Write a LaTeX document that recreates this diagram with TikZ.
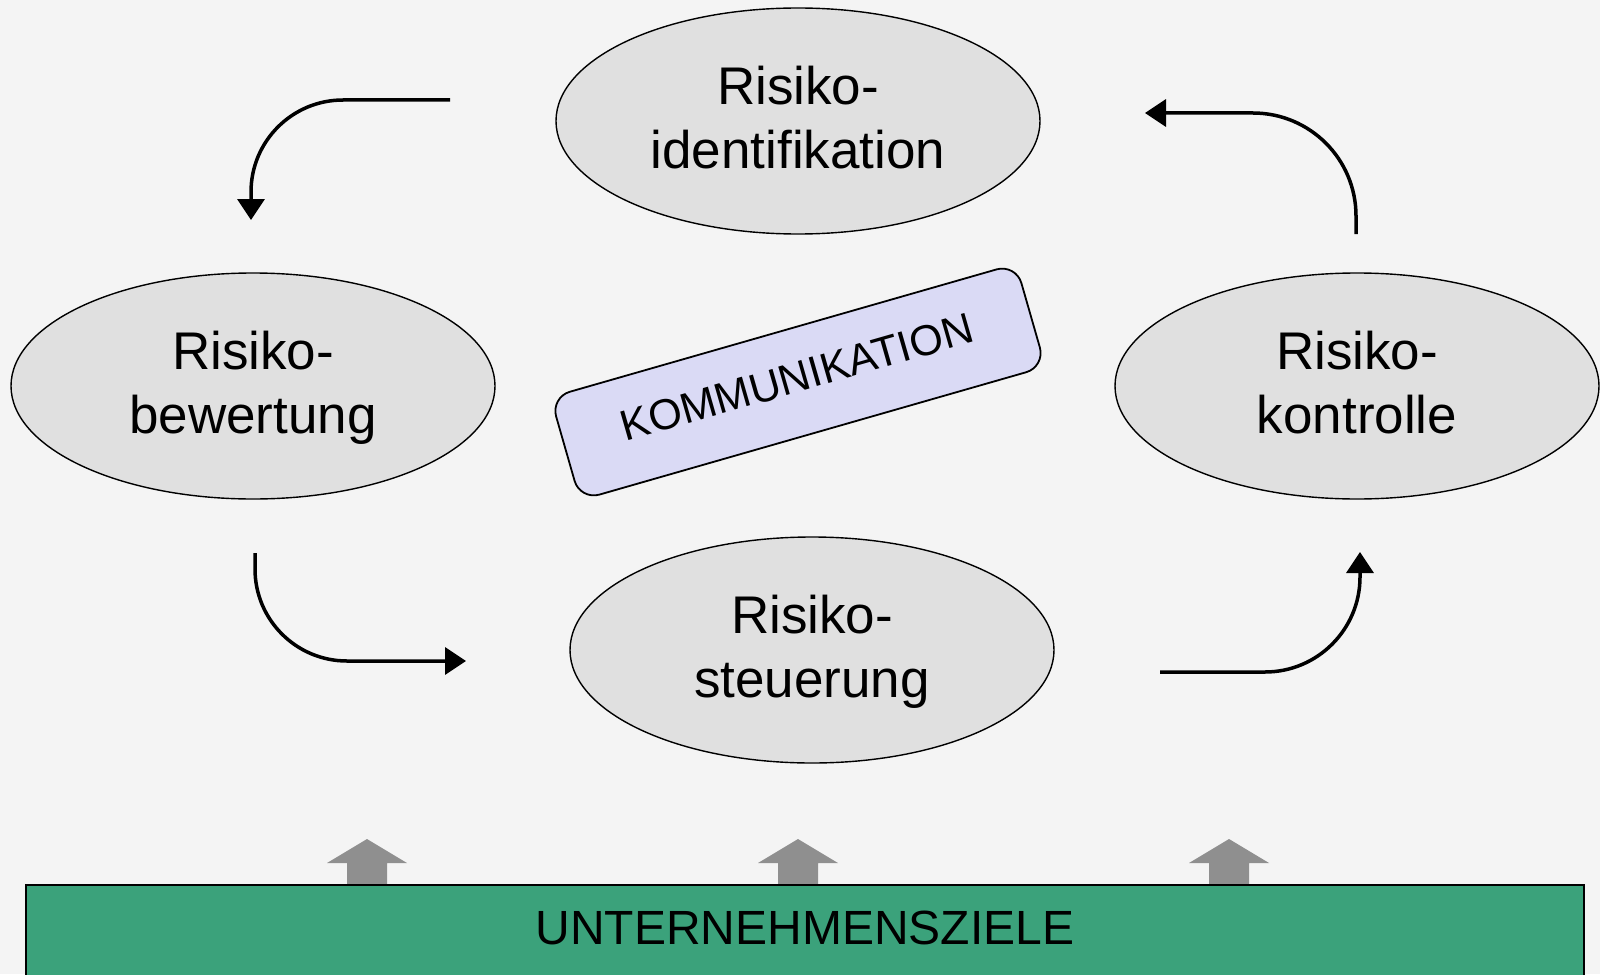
\documentclass[tikz,border=0pt]{standalone}
\usepackage{fontspec}
\setmainfont{Liberation Sans}
\usetikzlibrary{shapes.geometric,arrows.meta}
\definecolor{bgc}{RGB}{244,244,244}
\definecolor{ellfill}{RGB}{224,224,224}
\definecolor{lavfill}{RGB}{218,218,245}
\definecolor{goalgreen}{RGB}{59,162,123}
\definecolor{uparrow}{RGB}{143,143,143}
\newcommand\firstlinestrut{\rule{0pt}{24.8pt}}
\tikzset{
  phase/.style={ellipse, draw=black, line width=0.7pt, fill=ellfill,
    minimum width=242pt, minimum height=113pt, inner sep=0pt, align=center,
    font=\fontsize{26.5}{32}\selectfont},
  flow/.style={line width=1.75pt, -{Triangle[length=10.5pt,width=13.5pt]}},
  commbox/.style={rectangle, rounded corners=10pt, draw=black, line width=0.9pt,
    fill=lavfill, minimum width=242pt, minimum height=53.5pt, inner sep=0pt,
    rotate=16, text depth=5pt, font=\fontsize{21.5}{25}\selectfont},
  goalarrow/.style={fill=uparrow, draw=none}
}
\begin{document}
\begin{tikzpicture}[x=0.5pt,y=-0.5pt]
\useasboundingbox (0,0) rectangle (1600,974);
\fill[bgc] (0,0) rectangle (1600,974);

% gray arrows
\foreach \ax/\nm in {367/ga, 798/gb, 1229/gc}{
  \fill[goalarrow] (\ax,839) -- (\ax+40,863) -- (\ax+20,863) -- (\ax+20,886)
    -- (\ax-20,886) -- (\ax-20,863) -- (\ax-40,863) -- cycle;
}

% goal bar
\draw[fill=goalgreen, line width=1pt] (26,885) rectangle (1584,990);
\node[anchor=base, font=\fontsize{24}{28}\selectfont] (ziele) at (805,944) {UNTERNEHMENSZIELE};

% phases
\node[phase] (ident) at (798,121) {\firstlinestrut Risiko-\\\strut identifikation};
\node[phase] (bew) at (253,386) {\firstlinestrut Risiko-\\\strut bewertung};
\node[phase] (kontr) at (1357,386) {\firstlinestrut Risiko-\\\strut kontrolle};
\node[phase] (steu) at (812,650) {\firstlinestrut Risiko-\\\strut steuerung};

% communication
\node[commbox] (komm) at (798,382) {KOMMUNIKATION};

% cycle arrows
\coordinate (a1s) at (450,100);
\coordinate (a1e) at (251,220);
\draw[flow] (a1s) -- (343,100) .. controls (292.2,100) and (251,141.2) .. (251,192) -- (a1e);

\coordinate (a2s) at (1356,234);
\coordinate (a2e) at (1145,113);
\draw[flow] (a2s) -- (1356,216) .. controls (1356,159.1) and (1309.9,113) .. (1253,113) -- (a2e);

\coordinate (a3s) at (255,553);
\coordinate (a3e) at (466,661);
\draw[flow] (a3s) -- (255,569) .. controls (255,619.8) and (296.2,661) .. (347,661) -- (a3e);

\coordinate (a4s) at (1160,672);
\coordinate (a4e) at (1360,552);
\draw[flow] (a4s) -- (1265,672) .. controls (1317.4,672) and (1360,629.4) .. (1360,577) -- (a4e);
\end{tikzpicture}
\end{document}
